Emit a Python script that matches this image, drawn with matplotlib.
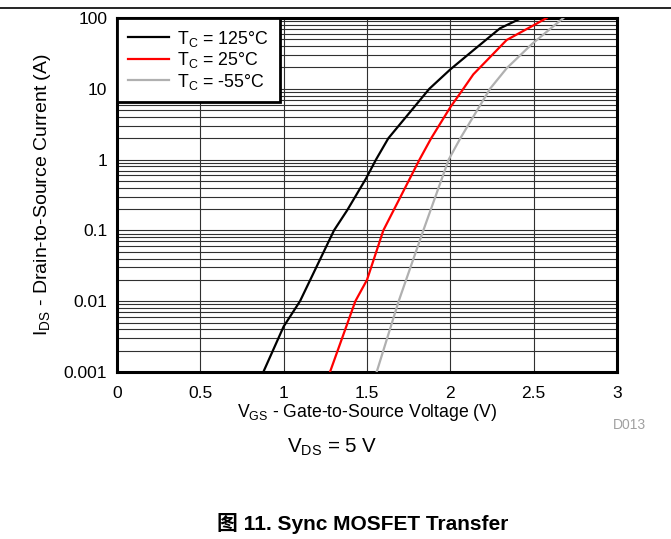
import matplotlib
matplotlib.use('Agg')
import matplotlib.pyplot as plt
from matplotlib.lines import Line2D
from matplotlib.ticker import FixedLocator, NullFormatter

plt.rcParams['font.family'] = ['Liberation Sans', 'Noto Sans CJK SC', 'DejaVu Sans']
plt.rcParams['mathtext.fontset'] = 'custom'
plt.rcParams['mathtext.rm'] = 'Liberation Sans'
plt.rcParams['mathtext.it'] = 'Liberation Sans'

# Transfer curves (V_GS in V, I_DS in A)
vgs_125 = [0.878, 1.0, 1.098, 1.302, 1.382, 1.494, 1.554, 1.628, 1.874, 2.0, 2.138, 2.298, 2.428]
ids_125 = [0.001, 0.0044, 0.01, 0.1, 0.194, 0.54, 1.0, 2.0, 10, 18.8, 35, 71.5, 100]

vgs_25 = [1.278, 1.43, 1.5, 1.598, 1.815, 1.885, 2.0, 2.078, 2.138, 2.338, 2.5, 2.578]
ids_25 = [0.001, 0.01, 0.02, 0.1, 1.0, 2.0, 5.5, 10, 16, 48.9, 79, 100]

vgs_m55 = [1.558, 1.69, 1.838, 1.99, 2.06, 2.17, 2.238, 2.338, 2.49, 2.678]
ids_m55 = [0.001, 0.01, 0.1, 1.0, 2.0, 5.4, 10, 19.5, 43, 100]

x_ticks = [0, 0.5, 1, 1.5, 2, 2.5, 3]
x_tick_labels = ['0', '0.5', '1', '1.5', '2', '2.5', '3']
y_ticks = [0.001, 0.01, 0.1, 1, 10, 100]
y_tick_labels = ['0.001', '0.01', '0.1', '1', '10', '100']

fig = plt.figure(figsize=(6.71, 5.39), dpi=100)
ax = fig.add_axes([117 / 671, 1 - 372 / 539, 500 / 671, 354 / 539])

ax.plot(vgs_125, ids_125, color='black', lw=1.6, label=r'T$_\mathrm{C}$ = 125°C', zorder=3)
ax.plot(vgs_25, ids_25, color='#ff0000', lw=1.6, label=r'T$_\mathrm{C}$ = 25°C', zorder=3)
ax.plot(vgs_m55, ids_m55, color='#b0b0b0', lw=1.6, label=r'T$_\mathrm{C}$ = -55°C', zorder=3)

ax.set_yscale('log')
ax.set_xlim(0, 3)
ax.set_ylim(0.001, 100)
ax.set_xticks(x_ticks)
ax.set_xticklabels(x_tick_labels)
ax.set_yticks(y_ticks)
ax.set_yticklabels(y_tick_labels)
minor = [m * 10.0 ** e for e in range(-3, 2) for m in range(2, 10)]
ax.yaxis.set_minor_locator(FixedLocator(minor))
ax.yaxis.set_minor_formatter(NullFormatter())
ax.tick_params(axis='both', which='both', length=0, labelsize=12.5)
ax.tick_params(axis='x', pad=10)
ax.tick_params(axis='y', pad=7)

ax.grid(True, which='major', axis='both', color='#303030', lw=0.8)
ax.grid(True, which='minor', axis='y', color='#303030', lw=0.8)
ax.set_axisbelow(True)
for s in ax.spines.values():
    s.set_linewidth(2.2)

ax.set_xlabel(r'V$_\mathrm{GS}$ - Gate-to-Source Voltage (V)', fontsize=12.7, labelpad=1)
ax.set_ylabel(r'I$_\mathrm{DS}$ - Drain-to-Source Current (A)', fontsize=14, labelpad=8)

leg = ax.legend(loc='upper left', borderaxespad=0, fancybox=False, framealpha=1,
                edgecolor='black', fontsize=12.8, handlelength=2.3, borderpad=0.6,
                labelspacing=0.08, handletextpad=0.5)
leg.get_frame().set_linewidth(2)

fig.text(629 / 671, 1 - 425 / 539, 'D013', color='#a0a0a0', fontsize=10, ha='center', va='center')
fig.text(332 / 671, 1 - 447 / 539, r'V$_\mathrm{DS}$ = 5 V', fontsize=14.8, ha='center', va='center')
fig.text(363 / 671, 1 - 524 / 539, '图 11. Sync MOSFET Transfer', fontsize=15, fontweight='bold',
         ha='center', va='center')
fig.add_artist(Line2D([0, 1], [1 - 8 / 539, 1 - 8 / 539], color='black', lw=1.2))

fig.savefig('out.png', dpi=100)
